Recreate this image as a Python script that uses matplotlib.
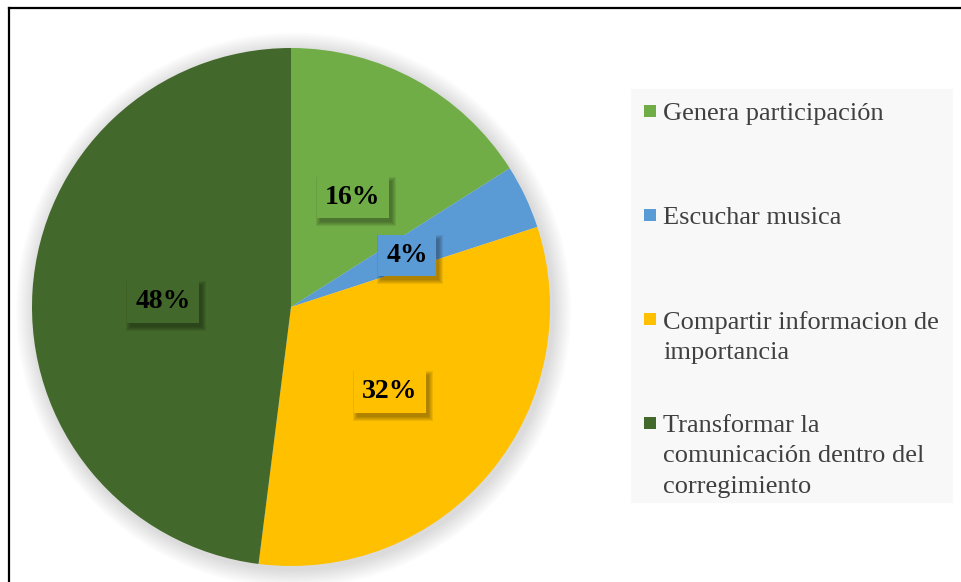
import matplotlib
matplotlib.use("Agg")
import matplotlib.pyplot as plt
from matplotlib.patches import Rectangle, Circle
from matplotlib.lines import Line2D
import numpy as np

categories = ["Genera participación", "Escuchar musica",
              "Compartir informacion de importancia",
              "Transformar la comunicación dentro del corregimiento"]
legend_labels = ["Genera participación", "Escuchar musica",
                 "Compartir informacion de\nimportancia",
                 "Transformar la\ncomunicación dentro del\ncorregimiento"]
values = [16, 4, 32, 48]
colors = ["#70AD47", "#5B9BD5", "#FFC000", "#43682B"]

plt.rcParams['font.family'] = ['Liberation Serif', 'DejaVu Serif']

W, H = 961, 582
fig = plt.figure(figsize=(W / 100, H / 100), dpi=100)
fig.patch.set_facecolor('white')

cx, cy, r = 291, 307, 259
ax = fig.add_axes([(cx - r) / W, (H - cy - r) / H, 2 * r / W, 2 * r / H])

# soft shadow glow behind the pie
for i in range(12):
    rad = 1.0 + 0.006 * (12 - i)
    ax.add_patch(Circle((0.01, -0.012), rad, color='black', alpha=0.010,
                        lw=0, clip_on=False, zorder=0))

wedges, _ = ax.pie(values, colors=colors, startangle=90, counterclock=False,
                   radius=1.0, wedgeprops=dict(linewidth=0))
for w in wedges:
    w.set_zorder(2)

total = sum(values)
start = 90.0
pct_dist = 0.495
label_texts = []
for v, c in zip(values, colors):
    ang = start - v / total * 360 / 2
    start -= v / total * 360
    x = pct_dist * np.cos(np.deg2rad(ang))
    y = pct_dist * np.sin(np.deg2rad(ang))
    t = ax.text(x, y, f"{v}%", ha='center', va='center_baseline', fontsize=20,
                fontweight='bold', color='black', zorder=5,
                bbox=dict(boxstyle='square,pad=0.3', fc=c, ec='none'))
    label_texts.append(t)

ax.set_xlim(-1, 1)
ax.set_ylim(-1, 1)
ax.set_aspect('auto')
ax.axis('off')

# soft shadows under the label boxes (inside the axes, below the labels)
fig.canvas.draw()
rend = fig.canvas.get_renderer()
inv = ax.transData.inverted()
for t in label_texts:
    bb = t.get_bbox_patch().get_window_extent(rend)
    for k in range(5):
        g = 4 - k
        x0, y0 = bb.x0 + 3 - g, bb.y0 - 4 - g
        w_, h_ = bb.width + 2 * g, bb.height + 2 * g
        (dx0, dy0) = inv.transform((x0, y0))
        (dx1, dy1) = inv.transform((x0 + w_, y0 + h_))
        ax.add_patch(Rectangle((dx0, dy0), dx1 - dx0, dy1 - dy0, fc='black',
                               ec='none', alpha=0.07, zorder=3))

# legend (manual layout)
lx0, ly0, lx1, ly1 = 631, 89, 953, 503
fig.patches.append(Rectangle((lx0 / W, 1 - ly1 / H), (lx1 - lx0) / W, (ly1 - ly0) / H,
                             transform=fig.transFigure, fc='#F8F8F8', ec='none', zorder=0))
first_line_y = [111, 215, 319, 423]
for lab, c, yy in zip(legend_labels, colors, first_line_y):
    fig.patches.append(Rectangle((644 / W, 1 - (yy + 6) / H), 12 / W, 12 / H,
                                 transform=fig.transFigure, fc=c, ec='none', zorder=1))
    fig.text(663 / W, 1 - (yy - 8) / H, lab, ha='left', va='top', fontsize=19,
             color='#404040', linespacing=1.5)

# frame lines (top and left visible)
fig.add_artist(Line2D([9 / W, 1], [1 - 8 / H, 1 - 8 / H], transform=fig.transFigure,
                      color='black', lw=1.6))
fig.add_artist(Line2D([9 / W, 9 / W], [0, 1 - 8 / H], transform=fig.transFigure,
                      color='black', lw=1.6))

fig.savefig("out.png", dpi=100)
